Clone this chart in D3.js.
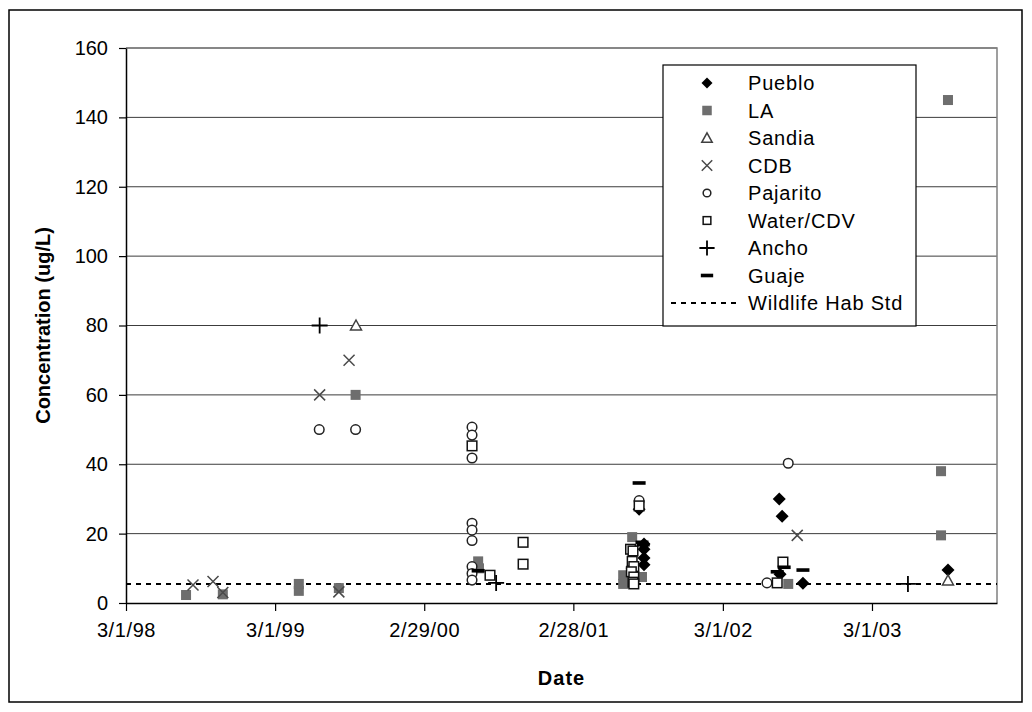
<!DOCTYPE html>
<html>
<head>
<meta charset="utf-8">
<script src="https://cdn.jsdelivr.net/npm/d3@7"></script>
<style>
  html, body { margin: 0; padding: 0; background: #fff; }
  svg { display: block; font-family: "Liberation Sans", Arial, sans-serif; }
</style>
</head>
<body>
<svg id="chart" width="1032" height="712"></svg>
<script>
// ---------------- DATA ----------------
const pueblo = [
  ["2001-08-08", 27], ["2001-08-20", 17], ["2001-08-20", 15.5], ["2001-08-20", 13], ["2001-08-20", 11],
  ["2002-07-17", 30], ["2002-07-24", 25], ["2002-07-19", 8.3], ["2002-09-13", 5.7], ["2003-09-03", 9.5]
];
const la = [
  ["1998-07-26", 2.3], ["1998-10-24", 2.5], ["1999-04-28", 3.5], ["1999-04-28", 5.5], ["1999-08-04", 4.3],
  ["1999-09-14", 60], ["2000-07-10", 12], ["2000-07-12", 10], ["2001-06-30", 8], ["2001-06-30", 5.5],
  ["2001-07-22", 19], ["2001-08-15", 7.5], ["2002-08-08", 5.5], ["2003-08-17", 38], ["2003-08-17", 19.5],
  ["2003-09-03", 145]
];
const sandia = [["1999-09-15", 80], ["2003-09-03", 6.5]];
const cdb = [
  ["1998-08-12", 5.2], ["1998-09-30", 6.2], ["1998-10-24", 3], ["1999-06-18", 60], ["1999-08-04", 3.2],
  ["1999-08-29", 70], ["2002-08-30", 19.5]
];
const pajarito = [
  ["1999-06-17", 50], ["1999-09-14", 50],
  ["2000-06-25", 50.7], ["2000-06-25", 48.4], ["2000-06-25", 41.8], ["2000-06-25", 23], ["2000-06-25", 21],
  ["2000-06-25", 18], ["2000-06-25", 10.5], ["2000-06-25", 8.5], ["2000-06-25", 6.6],
  ["2001-08-08", 29.5], ["2001-07-20", 10], ["2002-08-08", 40.3], ["2002-06-17", 5.8]
];
const water = [
  ["2000-06-25", 45.3], ["2000-08-08", 8], ["2000-10-28", 17.5], ["2000-10-28", 11.2],
  ["2001-08-08", 28], ["2001-07-18", 15.5], ["2001-07-24", 15], ["2001-07-22", 12], ["2001-07-26", 10.5],
  ["2001-07-20", 9], ["2001-07-26", 7.5], ["2001-07-24", 6], ["2001-07-26", 5.5],
  ["2002-07-26", 11.8], ["2002-07-12", 5.8]
];
const ancho = [["1999-06-18", 80], ["2000-08-23", 5.8], ["2003-05-28", 5.5]];
const guaje = [
  ["2000-07-10", 9.3], ["2001-08-08", 34.6], ["2001-08-15", 17.5], ["2001-08-18", 16.8],
  ["2002-07-29", 10.3], ["2002-07-12", 9], ["2002-09-13", 9.5]
];
const wildlifeStd = 5.5;

const xTickDates = ["1998-03-01", "1999-03-01", "2000-02-29", "2001-02-28", "2002-03-01", "2003-03-01"];
const xTickLabels = ["3/1/98", "3/1/99", "2/29/00", "2/28/01", "3/1/02", "3/1/03"];
const yTicks = [0, 20, 40, 60, 80, 100, 120, 140, 160];
const xDomain = ["1998-03-01", "2004-01-01"];
const yDomain = [0, 160];

// ---------------- SETUP ----------------
const parse = d3.utcParse("%Y-%m-%d");
const svg = d3.select("#chart");
const L = 126, R = 997, T = 48, B = 603;

const x = d3.scaleUtc().domain(xDomain.map(parse)).range([L, R]);
const y = d3.scaleLinear().domain(yDomain).range([B, T]);

// outer border
svg.append("rect").attr("x", 9).attr("y", 10).attr("width", 1013).attr("height", 692)
  .attr("fill", "#fff").attr("stroke", "#000").attr("stroke-width", 1.5);

// gridlines
svg.append("g").selectAll("line").data(yTicks.filter(v => v > 0)).join("line")
  .attr("x1", L).attr("x2", R).attr("y1", d => y(d)).attr("y2", d => y(d))
  .attr("stroke", "#3c3c3c").attr("stroke-width", 1);

// plot border top/right
svg.append("path").attr("d", `M${L},${T}H${R}V${B}`).attr("fill", "none")
  .attr("stroke", "#808080").attr("stroke-width", 1.5);

// axes
const yAxis = d3.axisLeft(y).tickValues(yTicks).tickSize(7).tickPadding(11).tickSizeOuter(0);
const gy = svg.append("g").attr("transform", `translate(${L},0)`).call(yAxis);
const xAxis = d3.axisBottom(x).tickValues(xTickDates.map(parse)).tickSize(8).tickPadding(12).tickSizeOuter(0)
  .tickFormat((d, i) => xTickLabels[i]);
const gx = svg.append("g").attr("transform", `translate(0,${B})`).call(xAxis);
[gx, gy].forEach(g => {
  g.select(".domain").attr("stroke", "#000").attr("stroke-width", 1.5);
  g.selectAll(".tick line").attr("stroke", "#000").attr("stroke-width", 1.2);
  g.selectAll(".tick text").attr("fill", "#000").attr("font-size", 20)
    .attr("font-family", "'Liberation Sans', Arial, sans-serif");
});
gx.selectAll(".tick text").attr("letter-spacing", 0.6);

// axis titles
svg.append("text").attr("x", (L + R) / 2).attr("y", 685).attr("text-anchor", "middle")
  .attr("font-size", 20).attr("font-weight", "bold").attr("letter-spacing", 1).text("Date");
svg.append("text").attr("transform", `translate(50,${(T + B) / 2}) rotate(-90)`)
  .attr("text-anchor", "middle").attr("font-size", 20).attr("font-weight", "bold")
  .text("Concentration (ug/L)");

// wildlife standard line
svg.append("line").attr("x1", L).attr("x2", R).attr("y1", y(wildlifeStd)).attr("y2", y(wildlifeStd))
  .attr("stroke", "#000").attr("stroke-width", 2).attr("stroke-dasharray", "5,5");

// ---------------- MARKERS ----------------
const markers = {
  diamond: (g, s) => g.append("path").attr("d", `M0,${-6.5*s}L${6.5*s},0L0,${6.5*s}L${-6.5*s},0Z`).attr("fill", "#000"),
  fsquare: (g, s) => g.append("rect").attr("x", -5*s).attr("y", -5*s).attr("width", 10*s).attr("height", 10*s).attr("fill", "#6e6e6e"),
  triangle: (g, s) => g.append("path").attr("d", `M0,${-5.5*s}L${5.5*s},${4.5*s}L${-5.5*s},${4.5*s}Z`).attr("fill", "#fff").attr("stroke", "#404040").attr("stroke-width", 1.5),
  xmark: (g, s) => g.append("path").attr("d", `M${-5.5*s},${-5.5*s}L${5.5*s},${5.5*s}M${5.5*s},${-5.5*s}L${-5.5*s},${5.5*s}`).attr("stroke", "#4a4a4a").attr("stroke-width", 1.5),
  circle: (g, s) => g.append("circle").attr("r", 4.8*s).attr("fill", "#fff").attr("stroke", "#222").attr("stroke-width", 1.5),
  osquare: (g, s) => g.append("rect").attr("x", -4.8*s).attr("y", -4.8*s).attr("width", 9.6*s).attr("height", 9.6*s).attr("fill", "#fff").attr("stroke", "#111").attr("stroke-width", 1.5),
  plus: (g, s) => g.append("path").attr("d", `M${-8*s},0H${8*s}M0,${-8*s}V${8*s}`).attr("stroke", "#000").attr("stroke-width", 1.8),
  dash: (g, s) => g.append("rect").attr("x", -6.5*s).attr("y", -1.8).attr("width", 13*s).attr("height", 3.6).attr("fill", "#000")
};

const series = [
  { name: "Pueblo", data: pueblo, m: "diamond" },
  { name: "LA", data: la, m: "fsquare" },
  { name: "Sandia", data: sandia, m: "triangle" },
  { name: "CDB", data: cdb, m: "xmark" },
  { name: "Pajarito", data: pajarito, m: "circle" },
  { name: "Water/CDV", data: water, m: "osquare" },
  { name: "Ancho", data: ancho, m: "plus" },
  { name: "Guaje", data: guaje, m: "dash" }
];

const plot = svg.append("g");
series.forEach(s => {
  const g = plot.append("g").attr("class", "series-" + s.name);
  s.data.forEach(([d, v]) => {
    const p = g.append("g").attr("transform", `translate(${x(parse(d))},${y(v)})`);
    markers[s.m](p, 1);
  });
});

// ---------------- LEGEND ----------------
const lg = svg.append("g");
lg.append("rect").attr("x", 663).attr("y", 65).attr("width", 253).attr("height", 261)
  .attr("fill", "#fff").attr("stroke", "#000").attr("stroke-width", 1.2);
const legendItems = series.map(s => ({ name: s.name, m: s.m })).concat([{ name: "Wildlife Hab Std", m: "line" }]);
legendItems.forEach((it, i) => {
  const cy = 83 + i * 27.5;
  if (it.m === "line") {
    lg.append("line").attr("x1", 671).attr("x2", 740).attr("y1", cy).attr("y2", cy)
      .attr("stroke", "#000").attr("stroke-width", 2).attr("stroke-dasharray", "5,5");
  } else {
    const p = lg.append("g").attr("transform", `translate(707,${cy})`);
    const sc = (it.m === "circle" || it.m === "osquare") ? 0.8 : (it.m === "diamond" ? 0.85 : 0.95);
    markers[it.m](p, sc);
  }
  lg.append("text").attr("x", 748).attr("y", cy + 7).attr("font-size", 20).attr("letter-spacing", 0.8)
    .text(it.name);
});
</script>
</body>
</html>
